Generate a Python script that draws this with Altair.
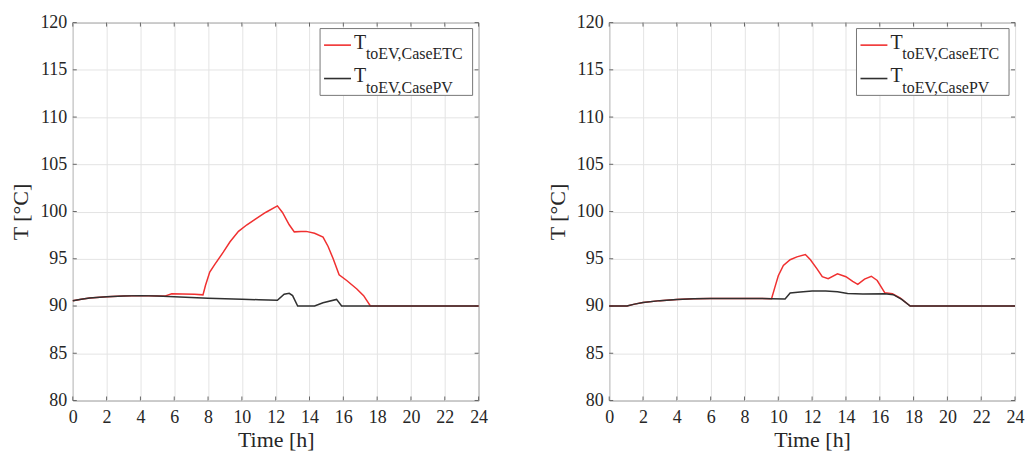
import altair as alt
import pandas as pd

# Left panel: outlet temperature to the EV, two cases
left_pv_t = [0, 0.5, 1, 2, 3, 4, 5, 6, 7, 8, 9, 10, 11, 12.1, 12.5, 12.8, 13.0, 13.3, 14.3, 14.8, 15.6, 15.9, 24]
left_pv_T = [90.55, 90.72, 90.85, 90.98, 91.06, 91.1, 91.05, 90.98, 90.9, 90.82, 90.76, 90.72, 90.66, 90.6,
             91.25, 91.35, 91.1, 90.0, 90.0, 90.35, 90.7, 90.0, 90.0]

left_etc_t = [0, 0.5, 1, 2, 3, 4, 5, 5.44, 5.85, 6.5, 7.2, 7.7, 7.85, 8.1, 8.4, 8.9, 9.3, 9.8, 10.3, 10.8,
              11.4, 12.1, 12.4, 12.8, 13.1, 13.5, 13.8, 14.3, 14.8, 15.1, 15.4, 15.75, 16.2, 16.8, 17.2, 17.6, 24]
left_etc_T = [90.55, 90.72, 90.85, 90.98, 91.06, 91.1, 91.05, 91.05, 91.3, 91.28, 91.25, 91.18, 92.2, 93.6,
              94.4, 95.7, 96.8, 97.9, 98.6, 99.2, 99.9, 100.6, 99.9, 98.6, 97.85, 97.9, 97.9, 97.7, 97.3,
              96.3, 95.0, 93.3, 92.7, 91.8, 91.1, 90.0, 90.0]

# Right panel
right_pv_t = [0, 1.05, 1.5, 2, 3, 4, 5, 6, 8, 9.6, 10.4, 10.7, 11.3, 12, 12.8, 13.5, 14.1, 15, 16.3, 16.8,
              17.3, 17.8, 24]
right_pv_T = [90.0, 90.0, 90.2, 90.38, 90.57, 90.7, 90.77, 90.8, 90.8, 90.78, 90.75, 91.38, 91.48, 91.6,
              91.58, 91.5, 91.32, 91.28, 91.3, 91.2, 90.7, 90.0, 90.0]

right_etc_t = [0, 1.05, 1.5, 2, 3, 4, 5, 6, 8, 9.6, 9.8, 10.0, 10.3, 10.7, 11.1, 11.6, 11.9, 12.3, 12.6,
               12.95, 13.5, 14.0, 14.4, 14.7, 15.1, 15.5, 15.85, 16.3, 16.75, 17.2, 17.8, 24]
right_etc_T = [90.0, 90.0, 90.2, 90.38, 90.57, 90.7, 90.77, 90.8, 90.8, 90.78, 92.0, 93.2, 94.3, 94.9,
               95.2, 95.45, 94.9, 93.9, 93.1, 92.9, 93.4, 93.1, 92.6, 92.3, 92.85, 93.15, 92.7, 91.4,
               91.3, 90.85, 90.0, 90.0]

x_ticks = list(range(0, 25, 2))
y_ticks = list(range(80, 121, 5))

series_labels = [("toEV,CaseETC", "#f03030"), ("toEV,CasePV", "#303030")]

W, H = 407, 379
TICK = 4
FONT = "Liberation Serif"
TXT = "#262626"
FRAME = "#666"

axis_style = dict(
    labelFont=FONT, titleFont=FONT, labelFontSize=18, titleFontSize=22,
    titleFontWeight="normal", labelColor=TXT, titleColor=TXT,
    grid=True, gridColor="#e4e4e4", gridWidth=1,
    domain=False, ticks=False, labelFlush=False, format="d",
)

x_enc = alt.X("t:Q", title="Time [h]",
              scale=alt.Scale(domain=[0, 24], nice=False),
              axis=alt.Axis(values=x_ticks, labelPadding=8, titlePadding=3, **axis_style))
y_enc = alt.Y("T:Q", title="T [°C]",
              scale=alt.Scale(domain=[80, 120], nice=False),
              axis=alt.Axis(values=y_ticks, labelPadding=6, titlePadding=7, **axis_style))


def line(ts, vals, color):
    df = pd.DataFrame({"t": ts, "T": vals})
    return alt.Chart(df).mark_line(color=color, strokeWidth=1.5, interpolate="linear").encode(x=x_enc, y=y_enc)


def inner_ticks():
    # short inward tick marks on all four sides of the frame
    ydf = pd.DataFrame({"T": y_ticks})
    xdf = pd.DataFrame({"t": x_ticks})
    out = []
    for a, b in [(0, TICK), (W - TICK, W)]:
        out.append(alt.Chart(ydf).mark_rule(color=FRAME, strokeWidth=1).encode(
            y=y_enc, x=alt.value(a), x2=alt.value(b)))
    for a, b in [(0, TICK), (H - TICK, H)]:
        out.append(alt.Chart(xdf).mark_rule(color=FRAME, strokeWidth=1).encode(
            x=x_enc, y=alt.value(a), y2=alt.value(b)))
    return out


def legend_layers():
    one = alt.Data(values=[{"k": 0}])
    box = alt.Chart(one).mark_rect(fill="white", stroke="#777", strokeWidth=1).encode(
        x=alt.value(248), x2=alt.value(401), y=alt.value(6), y2=alt.value(73))
    layers = [box]
    for i, (sub, col) in enumerate(series_labels):
        dy = i * 33.5
        layers.append(alt.Chart(one).mark_rule(color=col, strokeWidth=1.6).encode(
            x=alt.value(252), x2=alt.value(279), y=alt.value(22.6 + dy)))
        layers.append(alt.Chart(one).mark_text(
            align="left", baseline="alphabetic", font=FONT, fontSize=20, color=TXT).encode(
            x=alt.value(282), y=alt.value(26.5 + dy), text=alt.value("T")))
        layers.append(alt.Chart(one).mark_text(
            align="left", baseline="alphabetic", font=FONT, fontSize=16, color=TXT).encode(
            x=alt.value(294), y=alt.value(36.8 + dy), text=alt.value(sub)))
    return layers


def panel(pv_t, pv_T, etc_t, etc_T):
    return alt.layer(
        *inner_ticks(),
        line(etc_t, etc_T, series_labels[0][1]),
        line(pv_t, pv_T, series_labels[1][1]),
        *legend_layers(),
    ).properties(width=W, height=H)


chart = alt.hconcat(
    panel(left_pv_t, left_pv_T, left_etc_t, left_etc_T),
    panel(right_pv_t, right_pv_T, right_etc_t, right_etc_T),
    spacing=57,
).properties(
    padding={"left": 9, "top": 12, "right": 0, "bottom": 0},
    background="white",
).configure_view(
    stroke=FRAME, strokeWidth=1
)

chart.save("out.html", embed_options={"renderer": "svg", "actions": False})
